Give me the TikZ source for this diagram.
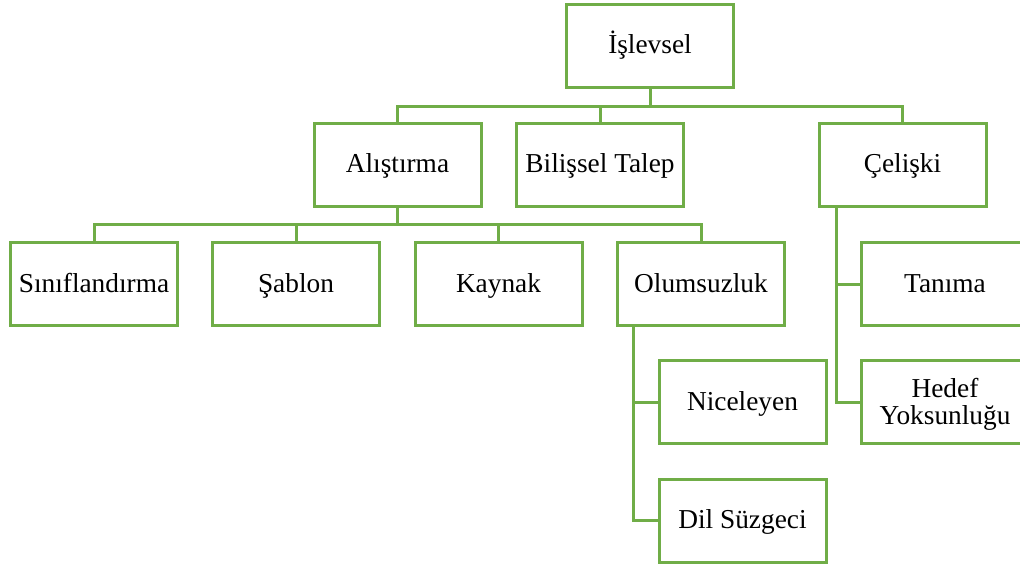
\documentclass[tikz,border=0pt]{standalone}
\usepackage{fontspec}
\setmainfont{Liberation Serif}
\definecolor{boxgreen}{HTML}{70AD47}
\begin{document}
\begin{tikzpicture}[x=0.75pt,y=-0.75pt,
  boxbase/.style={draw=boxgreen,line width=2.25pt,fill=white,rectangle,
    minimum width=125.25pt,minimum height=62.25pt,inner sep=0pt,align=center,
    font=\fontsize{20.5}{20.25}\selectfont},
  box/.style={boxbase,text height=15pt,text depth=3pt},
  twoline/.style={boxbase,text height=35.25pt,text depth=2.25pt},
  conn/.style={draw=boxgreen,line width=2.25pt}]
\fill[white] (0,0) rectangle (1020,567);
\useasboundingbox (0,0) rectangle (1020,567);
\node[box] (isl) at (650,46) {İşlevsel};
\node[box] (ali) at (397.5,164.5) {Alıştırma};
\node[box] (bil) at (600,164.5) {Bilişsel Talep};
\node[box] (cel) at (902.5,164.5) {Çelişki};
\node[box] (sin) at (94,284) {Sınıflandırma};
\node[box] (sab) at (296,284) {Şablon};
\node[box] (kay) at (498.5,284) {Kaynak};
\node[box] (olu) at (701,284) {Olumsuzluk};
\node[box] (tan) at (945,284) {Tanıma};
\node[box] (nic) at (742.5,402) {Niceleyen};
\node[twoline] (hed) at (945,402) {Hedef\\Yoksunluğu};
\node[box] (dil) at (742.5,520.5) {Dil Süzgeci};
% level 1
\draw[conn] (isl.south) -- (isl.south |- 0,106) -| (ali.north);
\draw[conn] (isl.south |- 0,106) -| (bil.north);
\draw[conn] (isl.south |- 0,106) -| (cel.north);
% level 2
\draw[conn] (ali.south) -- (ali.south |- 0,224) -| (sin.north);
\draw[conn] (ali.south |- 0,224) -| (sab.north);
\draw[conn] (ali.south |- 0,224) -| (kay.north);
\draw[conn] (ali.south |- 0,224) -| (olu.north);
% Çelişki spine
\draw[conn] (cel.south -| 836,0) |- (tan.west);
\draw[conn] (cel.south -| 836,0) |- (hed.west);
% Olumsuzluk spine
\draw[conn] (olu.south -| 633,0) |- (nic.west);
\draw[conn] (olu.south -| 633,0) |- (dil.west);
\end{tikzpicture}
\end{document}
